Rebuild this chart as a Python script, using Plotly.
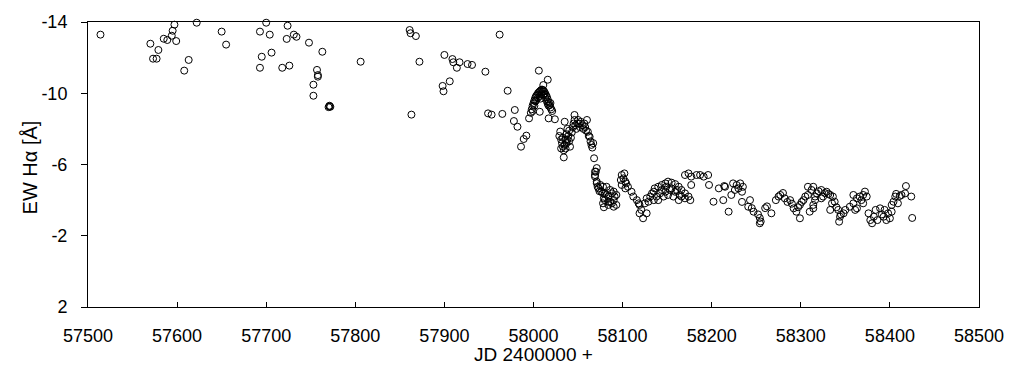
import plotly.graph_objects as go

# Julian date (minus 2400000) of each observation
jd = [
    57514, 57570, 57573, 57577, 57579, 57585, 57589, 57594, 57595, 57597, 57599, 57608, 57613, 57622,
    57650, 57655, 57693, 57693, 57695, 57700, 57704, 57706, 57718, 57723, 57724, 57726, 57731, 57734,
    57748, 57753, 57753, 57757, 57758, 57758, 57763, 57770, 57771, 57771, 57772, 57806,
    57861, 57862, 57863, 57868, 57872, 57898, 57899, 57900, 57906, 57909, 57910, 57914, 57917, 57926,
    57931, 57946, 57949, 57953, 57962, 57965, 57971, 57978, 57979, 57982, 57986, 57989, 57992, 57995,
    58006, 58011, 58016, 58017, 58024,
    # cluster ~58000
    57997, 57998, 57999, 58000, 58001, 58002, 58003, 58004, 58005, 58006, 58007, 58008, 58009, 58010,
    58011, 58012, 58013, 58014, 58015, 58016, 58017, 58018, 58019, 58020, 58021, 57999, 58001, 58003,
    58005, 58007, 58009, 58011, 58013, 58015, 58017, 58019, 58002, 58008, 58012, 58016, 58007,
    # cluster ~58045
    58029, 58030, 58031, 58031, 58032, 58033, 58033, 58034, 58034, 58035, 58035, 58036, 58036, 58037,
    58037, 58038, 58038, 58039, 58040, 58040, 58041, 58042, 58043, 58044, 58045, 58046, 58046, 58047,
    58048, 58049, 58050, 58051, 58052, 58053, 58055, 58056, 58057, 58058, 58059, 58060, 58061, 58062,
    58063, 58064, 58065, 58066, 58067, 58068, 58069, 58069, 58070, 58071,
    # cluster ~58080
    58069, 58071, 58071, 58072, 58073, 58074, 58075, 58076, 58078, 58078, 58078, 58079, 58080, 58080,
    58082, 58084, 58084, 58084, 58086, 58088, 58088, 58090, 58090, 58090, 58091, 58093, 58093, 58079,
    58086, 58082,
    # ~58110
    58098, 58099, 58099, 58101, 58102, 58103, 58103, 58104, 58106, 58110, 58112, 58116, 58118, 58119,
    58119, 58121, 58123, 58125, 58127, 58127, 58129,
    # ~58150
    58131, 58133, 58135, 58135, 58136, 58138, 58140, 58140, 58142, 58144, 58144, 58146, 58148, 58148,
    58149, 58151, 58151, 58153, 58155, 58155, 58157, 58159, 58159, 58161, 58163, 58163, 58164, 58166,
    58166, 58170, 58170, 58174, 58176, 58170, 58174, 58177, 58177, 58183, 58187, 58191, 58196, 58197,
    58202,
    # ~58230
    58208, 58213, 58214, 58215, 58219, 58222, 58224, 58226, 58228, 58230, 58232, 58234, 58235, 58234,
    58241, 58243, 58245, 58247, 58252, 58254, 58254, 58255, 58260, 58262, 58267,
    # ~58290
    58272, 58275, 58277, 58280, 58282, 58285, 58288, 58290, 58292, 58295, 58297, 58299, 58299, 58301,
    58303, 58305, 58308, 58308, 58310, 58312, 58314, 58314, 58314, 58316, 58316,
    # ~58370
    58318, 58320, 58323, 58323, 58325, 58327, 58329, 58331, 58333, 58333, 58335, 58336, 58338, 58340,
    58342, 58343, 58344, 58345, 58348, 58350, 58355, 58359, 58359, 58361, 58363, 58363, 58366, 58368,
    58370, 58370, 58372, 58374, 58376, 58378, 58380, 58382, 58384, 58386, 58389, 58391, 58393, 58394,
    58396, 58398, 58400, 58402, 58402, 58404, 58406, 58407, 58409, 58411, 58413, 58417, 58418, 58424,
    58425,
]

# Equivalent width of H-alpha [Angstrom]
ew = [
    -13.29, -12.78, -11.94, -11.94, -12.43, -13.06, -12.99, -13.23, -13.51, -13.85, -12.93, -11.27, -11.87, -13.96,
    -13.46, -12.73, -13.46, -11.43, -12.05, -13.96, -13.29, -12.28, -11.43, -13.05, -13.79, -11.55, -13.29, -13.17,
    -12.84, -10.48, -9.86, -11.31, -11.02, -10.93, -12.33, -9.22, -9.30, -9.26, -9.24, -11.77,
    -13.55, -13.37, -8.80, -13.21, -11.77, -10.41, -10.11, -12.15, -10.67, -11.92, -11.74, -11.43, -11.74, -11.64,
    -11.59, -11.21, -8.87, -8.80, -13.29, -8.84, -10.14, -8.44, -9.06, -8.12, -7.00, -7.43, -7.62, -8.59,
    -11.27, -10.46, -10.76, -8.59, -8.54,
    -8.9, -9.1, -9.3, -9.45, -9.6, -9.75, -9.85, -9.9, -10.0, -10.05, -10.1, -10.15, -10.2, -10.2,
    -10.15, -10.1, -10.0, -9.9, -9.8, -9.65, -9.5, -9.35, -9.2, -9.1, -9.0, -9.0, -9.3, -9.6,
    -9.75, -9.85, -9.95, -9.9, -9.75, -9.55, -9.3, -9.45, -9.55, -9.7, -9.95, -9.4, -8.96,
    -7.6, -7.85, -7.4, -6.9, -7.2, -7.0, -7.5, -6.8, -6.4, -7.1, -8.4, -7.4, -6.9, -7.7,
    -7.2, -8.0, -7.4, -7.6, -7.3, -7.9, -7.0, -7.5, -7.8, -8.1, -8.3, -8.5, -8.78, -8.2,
    -8.0, -8.3, -8.5, -8.3, -8.1, -8.4, -8.2, -8.0, -8.3, -8.1, -7.9, -8.5, -7.84, -7.6,
    -7.56, -7.3, -7.1, -6.95, -7.2, -6.35, -5.6, -5.41, -5.6, -5.8,
    -5.32, -5.04, -4.95, -4.75, -4.66, -4.5, -4.85, -4.48, -4.75, -4.38, -3.82, -4.1, -4.38, -4.0,
    -4.75, -4.2, -3.91, -3.73, -4.57, -4.38, -3.82, -4.48, -4.0, -3.63, -4.2, -4.29, -3.73, -3.6,
    -3.9, -4.3,
    -5.13, -5.41, -4.85, -5.22, -5.5, -5.04, -4.66, -4.94, -4.75, -4.47, -4.2, -4.0, -3.82, -3.73,
    -3.26, -3.45, -2.98, -3.82, -4.1, -3.26, -3.91,
    -4.2, -4.38, -4.47, -4.0, -4.66, -4.2, -4.75, -4.0, -4.38, -4.85, -4.57, -4.2, -4.94, -4.47,
    -4.75, -5.04, -4.29, -4.57, -4.98, -4.66, -4.2, -4.9, -4.47, -4.57, -4.75, -4.0, -4.29, -4.57,
    -4.2, -4.38, -4.1, -4.2, -4.0, -5.41, -5.5, -5.32, -4.85, -5.41, -5.41, -5.32, -5.41, -4.85,
    -3.91,
    -4.66, -4.0, -4.79, -4.75, -3.35, -4.29, -4.94, -4.57, -4.85, -4.66, -4.94, -4.47, -4.75, -3.9,
    -3.63, -4.0, -3.55, -3.35, -3.2, -3.0, -2.7, -2.8, -3.55, -3.65, -3.26,
    -4.0, -4.2, -4.29, -4.4, -4.1, -3.9, -4.0, -3.8, -3.54, -3.35, -3.6, -3.73, -2.98, -3.9,
    -4.0, -4.2, -4.29, -4.75, -3.35, -4.57, -3.73, -4.75, -3.54, -4.2, -4.0,
    -4.38, -4.5, -4.57, -4.1, -4.2, -4.4, -4.47, -4.35, -4.29, -3.45, -3.82, -4.2, -3.91, -3.6,
    -3.45, -2.79, -3.07, -3.2, -3.26, -3.45, -3.63, -3.82, -4.29, -3.45, -4.1, -3.54, -4.2, -4.0,
    -4.29, -3.82, -4.48, -4.2, -3.26, -2.88, -2.7, -3.07, -3.45, -2.88, -3.54, -3.2, -3.07, -3.45,
    -2.88, -3.26, -2.98, -3.35, -3.73, -3.91, -4.2, -4.35, -3.82, -4.23, -4.29, -4.38, -4.79, -4.2,
    -3.0,
]

x_ticks = [57500, 57600, 57700, 57800, 57900, 58000, 58100, 58200, 58300, 58400, 58500]
y_ticks = [-14, -10, -6, -2, 2]

FONT = "Liberation Sans, Arial, sans-serif"

fig = go.Figure()
fig.add_trace(go.Scatter(
    x=jd, y=ew, mode="markers",
    marker=dict(symbol="circle-open", size=7, color="black", line=dict(width=1, color="black")),
    cliponaxis=False, showlegend=False,
))

fig.update_layout(
    width=1020, height=387,
    margin=dict(l=88, r=41, t=22, b=80),
    paper_bgcolor="white", plot_bgcolor="white",
    font=dict(family=FONT, size=18, color="black"),
    xaxis=dict(
        range=[57500, 58500], tickvals=x_ticks, ticktext=[str(v) for v in x_ticks],
        ticks="inside", ticklen=5, tickcolor="black", tickwidth=1,
        showline=True, linecolor="black", linewidth=1, mirror=True,
        showgrid=False, zeroline=False, ticklabelstandoff=12,
        tickfont=dict(family=FONT, size=18, color="black"),
    ),
    yaxis=dict(
        range=[2, -14], tickvals=y_ticks, ticktext=[str(v) for v in y_ticks],
        ticks="outside", ticklen=6, tickcolor="black", tickwidth=1,
        showline=True, linecolor="black", linewidth=1, mirror=True,
        showgrid=False, zeroline=False, ticklabelstandoff=10,
        tickfont=dict(family=FONT, size=18, color="black"),
    ),
    annotations=[
        dict(text="JD 2400000 +", xref="paper", yref="paper", x=0.5, y=-0.168,
             xanchor="center", yanchor="middle", showarrow=False,
             font=dict(family=FONT, size=19, color="black")),
        dict(text="EW Hα [Å]", xref="paper", yref="paper", x=-0.065, y=0.49,
             xanchor="center", yanchor="middle", textangle=-90, showarrow=False,
             font=dict(family=FONT, size=20, color="black")),
    ],
)

fig.write_html(
    "out.html",
    config={"displayModeBar": False, "staticPlot": True},
    post_script="document.body.style.margin='0';document.body.style.overflow='hidden';",
)
